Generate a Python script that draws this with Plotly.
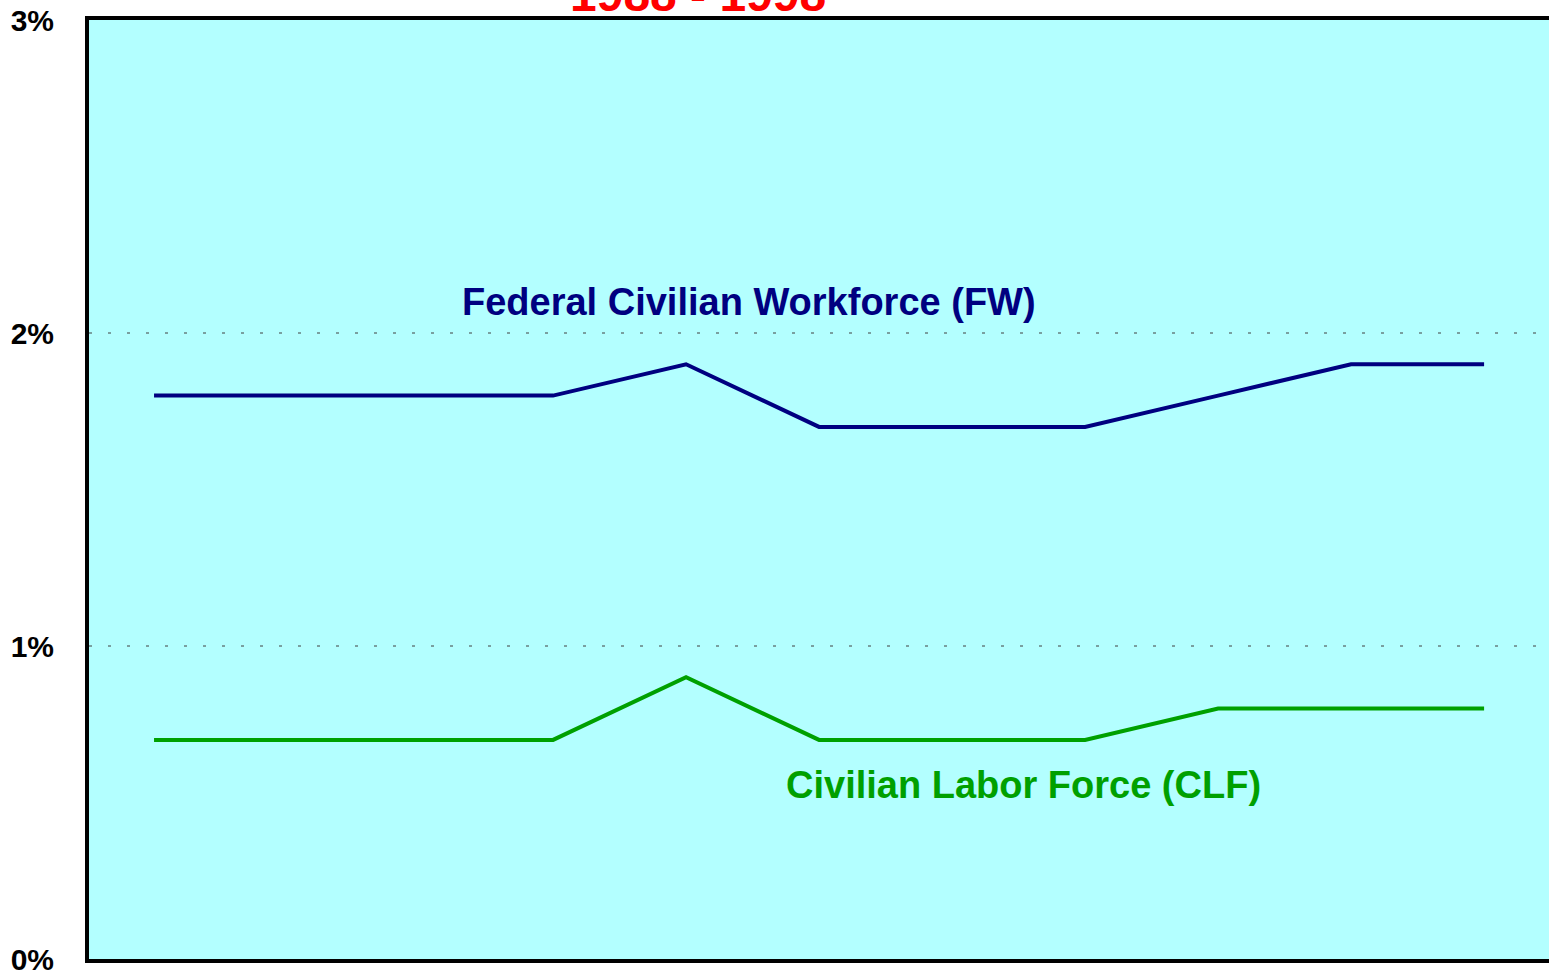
import plotly.graph_objects as go

years = [1988, 1989, 1990, 1991, 1992, 1993, 1994, 1995, 1996, 1997, 1998]
fw_rate = [1.8, 1.8, 1.8, 1.8, 1.9, 1.7, 1.7, 1.7, 1.8, 1.9, 1.9]
clf_rate = [0.7, 0.7, 0.7, 0.7, 0.9, 0.7, 0.7, 0.7, 0.8, 0.8, 0.8]
y_ticks = [0, 1, 2, 3]
y_tick_labels = ["0%", "1%", "2%", "3%"]
title_text = "1988 - 1998"
fw_label = "Federal Civilian Workforce (FW)"
clf_label = "Civilian Labor Force (CLF)"

FONT = "Liberation Sans Narrow, Arial Narrow, Liberation Sans, Arial, sans-serif"

fig = go.Figure()
fig.add_trace(go.Scatter(x=years, y=fw_rate, mode="lines",
                         line=dict(color="#000080", width=4), showlegend=False))
fig.add_trace(go.Scatter(x=years, y=clf_rate, mode="lines",
                         line=dict(color="#00A000", width=4), showlegend=False))

for g in [1, 2]:
    fig.add_shape(type="line", xref="paper", x0=0, x1=1, yref="y", y0=g, y1=g,
                  line=dict(color="#404040", width=1, dash="3px,16px"), layer="below")

fig.add_annotation(text="<b>" + fw_label + "</b>", x=1992.47, y=2.1, xref="x", yref="y",
                   showarrow=False, font=dict(family=FONT, size=38, color="#000080"))
fig.add_annotation(text="<b>" + clf_label + "</b>", x=1994.54, y=0.555, xref="x", yref="y",
                   showarrow=False, font=dict(family=FONT, size=38, color="#00A000"))
fig.add_annotation(text="<b>" + title_text + "</b>", x=0.417, y=1.0, xref="paper", yref="paper",
                   yanchor="bottom", yshift=-3, showarrow=False,
                   font=dict(family=FONT, size=48, color="#FF0000"))

fig.update_layout(
    width=1549, height=973,
    margin=dict(l=89, r=0, t=19.5, b=13.5, autoexpand=False),
    paper_bgcolor="white", plot_bgcolor="#B3FFFF",
    xaxis=dict(range=[1987.511, 1998.488], showticklabels=False, ticks="", showgrid=False,
               zeroline=False, showline=True, linecolor="black", linewidth=4, mirror=True,
               automargin=False),
    yaxis=dict(range=[0, 3], tickvals=y_ticks, ticktext=["<b>%s</b>" % t for t in y_tick_labels],
               showgrid=False, zeroline=False, showline=True, linecolor="black", linewidth=4,
               ticks="", ticklabelstandoff=25, ticklabeloverflow="allow", automargin=False,
               tickfont=dict(family="Liberation Sans, Arial, sans-serif", size=30, color="black")),
)

fig.write_html("out.html", config={"displayModeBar": False},
               post_script="document.body.style.margin='0';")
